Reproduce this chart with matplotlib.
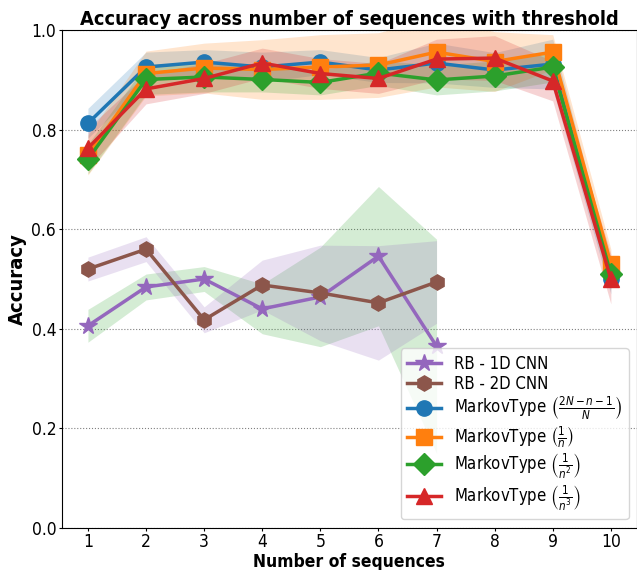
import matplotlib
matplotlib.use("Agg")
import matplotlib.pyplot as plt
import numpy as np

# number of sequences
n_seq = [1, 2, 3, 4, 5, 6, 7, 8, 9, 10]
n_seq_rb = [1, 2, 3, 4, 5, 6, 7]

# RB baselines (mean / std)
rb1d_mean = [0.406, 0.484, 0.500, 0.440, 0.464, 0.546, 0.365]
rb1d_std = [0.033, 0.026, 0.025, 0.050, 0.100, 0.140, 0.215]
rb2d_mean = [0.520, 0.560, 0.418, 0.488, 0.472, 0.452, 0.494]
rb2d_std = [0.024, 0.025, 0.026, 0.050, 0.096, 0.115, 0.083]

# MarkovType variants (mean / std)
mk_lin_mean = [0.813, 0.926, 0.936, 0.926, 0.936, 0.920, 0.934, 0.920, 0.932, 0.500]
mk_lin_std = [0.030, 0.030, 0.025, 0.030, 0.025, 0.025, 0.040, 0.035, 0.050, 0.030]
mk_n1_mean = [0.749, 0.913, 0.924, 0.921, 0.926, 0.930, 0.956, 0.937, 0.956, 0.530]
mk_n1_std = [0.040, 0.045, 0.050, 0.060, 0.065, 0.065, 0.070, 0.060, 0.035, 0.030]
mk_n2_mean = [0.741, 0.901, 0.906, 0.901, 0.895, 0.914, 0.900, 0.908, 0.926, 0.510]
mk_n2_std = [0.030, 0.030, 0.030, 0.025, 0.025, 0.025, 0.030, 0.030, 0.030, 0.030]
mk_n3_mean = [0.763, 0.882, 0.903, 0.934, 0.913, 0.903, 0.942, 0.944, 0.898, 0.500]
mk_n3_std = [0.040, 0.030, 0.030, 0.030, 0.030, 0.030, 0.040, 0.045, 0.040, 0.050]

plt.rcParams["font.stretch"] = "condensed"
plt.rcParams["mathtext.fontset"] = "dejavusans"

fig = plt.figure(figsize=(6.37, 5.70), dpi=100)
ax = fig.add_axes([0.097, 0.074, 0.903, 0.873])


def draw(x, mean, std, color, band_color, marker, label, ms=11):
    mean = np.array(mean)
    std = np.array(std)
    ax.plot(x, mean, color=color, marker=marker, markersize=ms, linewidth=2.5, label=label)
    ax.fill_between(x, mean - std, mean + std, color=band_color, alpha=0.2, linewidth=0)


draw(n_seq_rb, rb1d_mean, rb1d_std, "C4", "C2", "*", "RB - 1D CNN", ms=13)
draw(n_seq_rb, rb2d_mean, rb2d_std, "C5", "C4", "h", "RB - 2D CNN")
draw(n_seq, mk_lin_mean, mk_lin_std, "C0", "C0", "o", r"MarkovType $\left(\frac{2N-n-1}{N}\right)$")
draw(n_seq, mk_n1_mean, mk_n1_std, "C1", "C1", "s", r"MarkovType $\left(\frac{1}{n}\right)$")
draw(n_seq, mk_n2_mean, mk_n2_std, "C2", "C2", "D", r"MarkovType $\left(\frac{1}{n^2}\right)$")
draw(n_seq, mk_n3_mean, mk_n3_std, "C3", "C3", "^", r"MarkovType $\left(\frac{1}{n^3}\right)$")

ax.set_ylim(0, 1)
ax.set_xlim(0.55, 10.45)
ax.set_xticks(n_seq)
ax.tick_params(labelsize=12.5, length=2.5, pad=1.5)
ax.yaxis.grid(True, linestyle=":", color="gray", linewidth=0.8)
ax.set_axisbelow(True)

ax.set_title("Accuracy across number of sequences with threshold", fontsize=14.3, fontweight="bold", pad=4)
ax.set_xlabel("Number of sequences", fontsize=12.5, fontweight="bold", labelpad=1.5)
ax.set_ylabel("Accuracy", fontsize=14.5, fontweight="bold", labelpad=3)
ax.legend(loc="lower right", fontsize=12, labelspacing=0.12, borderaxespad=0.5)

fig.savefig("out.png", dpi=100)
